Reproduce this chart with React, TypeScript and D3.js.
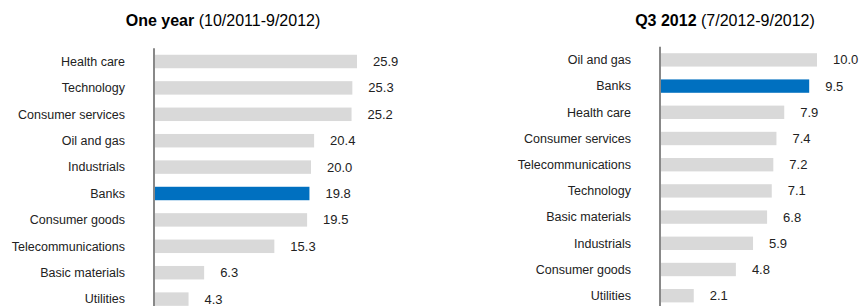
import * as d3 from 'd3';
import { useEffect, useRef } from 'react';

// One year (10/2011-9/2012)
const yearSectors = ['Health care', 'Technology', 'Consumer services', 'Oil and gas', 'Industrials', 'Banks', 'Consumer goods', 'Telecommunications', 'Basic materials', 'Utilities'];
const yearValues = [25.9, 25.3, 25.2, 20.4, 20.0, 19.8, 19.5, 15.3, 6.3, 4.3];

// Q3 2012 (7/2012-9/2012)
const q3Sectors = ['Oil and gas', 'Banks', 'Health care', 'Consumer services', 'Telecommunications', 'Technology', 'Basic materials', 'Industrials', 'Consumer goods', 'Utilities'];
const q3Values = [10.0, 9.5, 7.9, 7.4, 7.2, 7.1, 6.8, 5.9, 4.8, 2.1];

const highlight = 'Banks';
const W = 860;
const H = 306;
const FONT = "'Liberation Sans', Arial, sans-serif";

type Panel = {
  titleBold: string;
  titleRest: string;
  titleX: number;
  axisX: number;
  top: number;
  step: number;
  maxVal: number;
  maxPx: number;
  cats: string[];
  vals: number[];
};

const panels: Panel[] = [
  { titleBold: 'One year', titleRest: ' (10/2011-9/2012)', titleX: 223, axisX: 154, top: 48.3, step: 26.4, maxVal: 30, maxPx: 234, cats: yearSectors, vals: yearValues },
  { titleBold: 'Q3 2012', titleRest: ' (7/2012-9/2012)', titleX: 725, axisX: 660, top: 46.8, step: 26.2, maxVal: 10, maxPx: 156, cats: q3Sectors, vals: q3Values },
];

export default function App() {
  const ref = useRef<SVGSVGElement>(null);

  useEffect(() => {
    if (!ref.current) return;
    const svg = d3.select(ref.current);
    svg.selectAll('*').remove();
    svg.append('rect').attr('width', W).attr('height', H).attr('fill', '#fff');

    panels.forEach((p) => {
      const g = svg.append('g');
      const x = d3.scaleLinear().domain([0, p.maxVal]).range([p.axisX + 1, p.axisX + 1 + p.maxPx]);
      const y = d3.scaleBand<string>()
        .domain(p.cats)
        .range([p.top, p.top + p.cats.length * p.step])
        .paddingInner(0.49)
        .paddingOuter(0.245);

      // titel
      const t = g.append('text')
        .attr('x', p.titleX)
        .attr('y', 25.5)
        .attr('text-anchor', 'middle')
        .attr('font-family', FONT)
        .attr('font-size', 16)
        .attr('fill', '#000');
      t.append('tspan').attr('font-weight', 'bold').text(p.titleBold);
      t.append('tspan').attr('font-weight', 'normal').text(p.titleRest);

      const data = p.cats.map((c, i) => ({ c, v: p.vals[i] }));

      g.selectAll('rect.bar')
        .data(data)
        .join('rect')
        .attr('class', 'bar')
        .attr('x', x(0))
        .attr('y', (d) => y(d.c)!)
        .attr('width', (d) => x(d.v) - x(0))
        .attr('height', y.bandwidth())
        .attr('fill', (d) => (d.c === highlight ? '#0070c0' : '#d9d9d9'));

      g.selectAll('text.cat')
        .data(data)
        .join('text')
        .attr('class', 'cat')
        .attr('x', p.axisX - 29)
        .attr('y', (d) => y(d.c)! + y.bandwidth() / 2)
        .attr('dy', '0.35em')
        .attr('text-anchor', 'end')
        .attr('font-family', FONT)
        .attr('font-size', 12.5)
        .attr('fill', '#222')
        .text((d) => d.c);

      g.selectAll('text.val')
        .data(data)
        .join('text')
        .attr('class', 'val')
        .attr('x', (d) => x(d.v) + 16)
        .attr('y', (d) => y(d.c)! + y.bandwidth() / 2)
        .attr('dy', '0.35em')
        .attr('font-family', FONT)
        .attr('font-size', 13)
        .attr('fill', '#222')
        .text((d) => d.v.toFixed(1));

      // achse
      g.append('line')
        .attr('x1', p.axisX)
        .attr('x2', p.axisX)
        .attr('y1', p.top)
        .attr('y2', H)
        .attr('stroke', '#888')
        .attr('stroke-width', 2);
    });
  }, []);

  return (
    <svg
      ref={ref}
      width={W}
      height={H}
      style={{ position: 'absolute', left: 0, top: 0, display: 'block' }}
    />
  );
}
